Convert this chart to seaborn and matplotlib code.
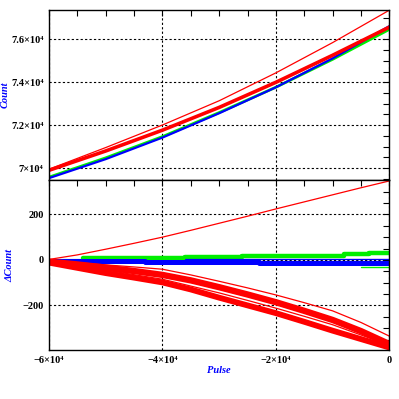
import matplotlib
matplotlib.use("Agg")
import matplotlib.pyplot as plt
import seaborn as sns
from matplotlib.ticker import MultipleLocator, FixedLocator, FixedFormatter
from matplotlib.font_manager import FontProperties

sns.set_theme(style="white")
plt.rcParams['font.family'] = ['Liberation Serif', 'DejaVu Serif']

# ---------------- data ----------------
pulse = [-60000, -50000, -40000, -30000, -20000, -10000, 0]

# top panel: Count
count_red_thin = [69950, 70960, 72010, 73140, 74440, 75850, 77360]
count_red_thick = [69900, 70800, 71770, 72830, 74000, 75260, 76570]
count_green = [69580, 70480, 71470, 72590, 73770, 75070, 76465]
count_blue = [69535, 70420, 71424, 72558, 73767, 75116, 76618]

# bottom panel: ΔCount
pulse_fine = [-60000, -55000, -50000, -45000, -40000, -35000, -30000,
              -25000, -20000, -15000, -10000, -5000, 0]
dc_red_rise = [2, 22, 47, 73, 100, 130, 161, 192, 224, 255, 286, 317, 347]
dc_red_band_upper = [-8, -20, -34, -49, -66, -90, -120, -152, -186, -224, -264, -313, -370]
dc_red_band_lower = [-12, -35, -58, -78, -99, -130, -166, -200, -234, -272, -311, -348, -385]
dc_red_thin_upper = [-3, -12, -22, -31, -41, -66, -94, -123, -154, -188, -224, -275, -335]
dc_red_thin_mid = [-10, -27, -45, -65, -85, -115, -145, -178, -212, -248, -285, -330, -375]

step_pulse_blue = [-60000, -55000, -43000, -32000, -23000, -14000, -8000, 0]
dc_blue_steps = [-4, -6, -8, -10, -12, -14, -15, -15]
thin_pulse_blue = [-36000, 0]
dc_blue_thin = [5, 5]

step_pulse_green = [-54000, -43000, -36000, -26000, -18000, -8000, -3500, 0]
dc_green_steps = [7, 10, 12, 15, 18, 25, 30, 30]
thin_pulse_green = [-5000, 0]
dc_green_thin = [-30, -30]

zero_pulse = [-60000, 0]
zero_level = [2, 2]

top_yticks = [70000, 72000, 74000, 76000]
top_ylabels = ["7×10⁴", "7.2×10⁴", "7.4×10⁴", "7.6×10⁴"]
bot_yticks = [-200, 0, 200]
bot_ylabels = ["−200", "0", "200"]
xticks = [-60000, -40000, -20000, 0]
xlabels = ["−6×10⁴", "−4×10⁴", "−2×10⁴", "0"]

RED, GREEN, BLUE = "#ff0000", "#00ee00", "#0000ff"

fig = plt.figure(figsize=(3.99, 3.99), dpi=100)
ax1 = fig.add_axes([0.1228, 0.549, 0.853, 0.426])
ax2 = fig.add_axes([0.1228, 0.1228, 0.853, 0.426])

def line(ax, x, y, color, lw, **kw):
    sns.lineplot(x=x, y=y, ax=ax, color=color, linewidth=lw, sort=False,
                 estimator=None, legend=False, **kw)

# top panel
line(ax1, pulse, count_green, GREEN, 2.0)
line(ax1, pulse, count_blue, BLUE, 1.6)
line(ax1, pulse, count_red_thick, RED, 2.6)
line(ax1, pulse, count_red_thin, RED, 0.9)

# bottom panel
line(ax2, zero_pulse, zero_level, "black", 0.8)
line(ax2, step_pulse_green, dc_green_steps, GREEN, 3.2, drawstyle="steps-post")
line(ax2, thin_pulse_green, dc_green_thin, GREEN, 1.0)
line(ax2, step_pulse_blue, dc_blue_steps, BLUE, 3.6, drawstyle="steps-post")
line(ax2, thin_pulse_blue, dc_blue_thin, BLUE, 0.9)
line(ax2, pulse_fine, dc_red_band_upper, RED, 4.6)
line(ax2, pulse_fine, dc_red_band_lower, RED, 4.2)
line(ax2, pulse_fine, dc_red_thin_upper, RED, 0.9)
line(ax2, pulse_fine, dc_red_thin_mid, RED, 0.9)
line(ax2, pulse_fine, dc_red_rise, RED, 0.9)

tick_font = dict(family=['Liberation Serif', 'DejaVu Serif'], weight='bold', size=7.5)
label_font = dict(family=['Liberation Serif', 'DejaVu Serif'], weight='bold',
                  style='italic', size=7.5, color='blue')

for ax in (ax1, ax2):
    ax.set_xlim(-60000, 0)
    ax.xaxis.set_major_locator(FixedLocator(xticks))
    ax.xaxis.set_minor_locator(MultipleLocator(5000))
    ax.grid(True, which='major', color='black', linestyle=(0, (2, 2)), linewidth=0.8)
    ax.tick_params(which='both', direction='in', top=True, right=True,
                   length=4, width=0.8, colors='black')
    for s in ax.spines.values():
        s.set_color('black')
        s.set_linewidth(1.0)
    ax.set_facecolor('white')
    ax.set_xlabel("")
    ax.set_ylabel("")

ax1.set_ylim(69450, 77370)
ax1.yaxis.set_major_locator(FixedLocator(top_yticks))
ax1.yaxis.set_major_formatter(FixedFormatter(top_ylabels))
ax1.yaxis.set_minor_locator(MultipleLocator(500))
ax1.tick_params(axis='x', which='both', bottom=False, labelbottom=False)
ax1.tick_params(axis='y', pad=4)
for t in ax1.get_yticklabels():
    t.set_fontproperties(FontProperties(**tick_font))

ax2.set_ylim(-396, 351)
ax2.yaxis.set_major_locator(FixedLocator(bot_yticks))
ax2.yaxis.set_major_formatter(FixedFormatter(bot_ylabels))
ax2.yaxis.set_minor_locator(MultipleLocator(50))
ax2.xaxis.set_major_formatter(FixedFormatter(xlabels))
ax2.tick_params(axis='y', pad=3.5)
ax2.tick_params(axis='x', pad=4)
for t in ax2.get_yticklabels() + ax2.get_xticklabels():
    t.set_fontproperties(FontProperties(**tick_font))

ax1.set_ylabel("Count", **label_font)
ax1.yaxis.set_label_coords(-0.115, 0.5)
ax2.set_ylabel("ΔCount", **label_font)
ax2.yaxis.set_label_coords(-0.103, 0.5)
ax2.set_xlabel("Pulse", **label_font)
ax2.xaxis.set_label_coords(0.5, -0.094)

fig.savefig("out.png", dpi=100, facecolor='white')
